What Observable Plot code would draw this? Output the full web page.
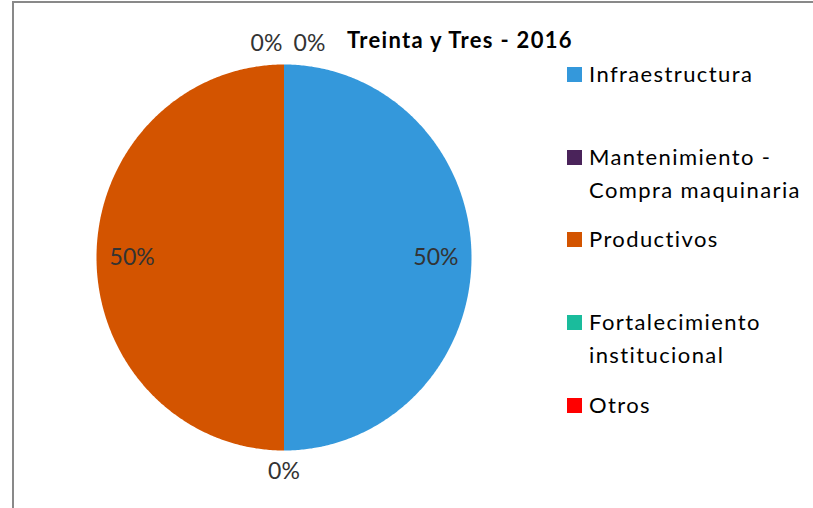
<!DOCTYPE html>
<html><head><meta charset="utf-8">
<script src="https://cdn.jsdelivr.net/npm/d3@7"></script>
<script src="https://cdn.jsdelivr.net/npm/@observablehq/plot@0.6"></script>
<style>
body{margin:0;background:#fff;font-family:Lato,"Open Sans",sans-serif;font-variant-ligatures:none;}
#wrap{position:relative;width:813px;height:508px;overflow:hidden;background:#fff;}
#frame{position:absolute;left:12px;top:1px;width:900px;height:600px;border-left:2.5px solid #898989;border-top:2.5px solid #898989;}
#title{position:absolute;left:347px;top:27px;font-weight:bold;font-size:22px;letter-spacing:1.3px;color:#000;white-space:nowrap;line-height:26px;}
#legend{position:absolute;left:567px;top:0;}
.li{position:absolute;left:0;display:flex;align-items:flex-start;white-space:nowrap;font-size:22px;letter-spacing:1.4px;color:#000;line-height:32.5px;}
.sw{width:15px;height:15px;margin-top:9px;margin-right:7px;flex:none;}
#chart{position:absolute;left:0;top:0;}
#chart text{font-variant-ligatures:none;}
</style></head>
<body><div id="wrap"><div id="frame"></div><div id="chart"></div><div id="title"></div><div id="legend"></div></div>
<script>
const title = "Treinta y Tres - 2016";
const categories = ["Infraestructura", "Mantenimiento - Compra maquinaria", "Productivos", "Fortalecimiento institucional", "Otros"];
const legendLines = [["Infraestructura"], ["Mantenimiento -", "Compra maquinaria"], ["Productivos"], ["Fortalecimiento", "institucional"], ["Otros"]];
const values = [50, 0, 50, 0, 0];
const colors = ["#3498DB", "#4A235A", "#D35400", "#1ABC9C", "#FF0000"];

// layout
const pieLeft = 96, pieRight = 471, pieTop = 64, pieBottom = 450;
const legendTops = [58, 141, 223, 306, 389];
const labelNudgePx = [0, 0, 0, -17.5, 25.5];

const total = d3.sum(values);
let acc = 0;
const slices = categories.map((c, i) => {
  const a0 = acc / total * 2 * Math.PI;
  acc += values[i];
  const a1 = acc / total * 2 * Math.PI;
  return {cat: c, value: values[i], a0, a1, i};
});
const poly = [];
for (const s of slices) {
  if (s.value <= 0) continue;
  poly.push({cat: s.cat, x: 0, y: 0});
  const n = Math.max(2, Math.ceil((s.a1 - s.a0) / (Math.PI / 360)));
  for (let k = 0; k <= n; k++) {
    const a = s.a0 + (s.a1 - s.a0) * k / n;
    poly.push({cat: s.cat, x: Math.sin(a), y: Math.cos(a)});
  }
  poly.push({cat: s.cat, x: 0, y: 0});
}
const rx = (pieRight - pieLeft) / 2;
const labels = slices.map(s => {
  const m = (s.a0 + s.a1) / 2;
  const r = s.value > 0 ? 0.81 : 1.11;
  return {x: r * Math.sin(m) + labelNudgePx[s.i] / rx, y: r * Math.cos(m), t: Math.round(s.value / total * 100) + "%"};
});

const plot = Plot.plot({
  width: 813, height: 508, margin: 0,
  x: {domain: [-1, 1], range: [pieLeft, pieRight], axis: null},
  y: {domain: [-1, 1], range: [pieBottom, pieTop], axis: null},
  color: {domain: categories, range: colors},
  style: {background: "transparent"},
  marks: [
    Plot.line(poly, {x: "x", y: "y", z: "cat", fill: "cat", stroke: "none", curve: "linear"}),
    Plot.text(labels, {x: "x", y: "y", text: "t", fontSize: 23, fill: "#333333", fontFamily: "Lato"})
  ]
});
document.getElementById("chart").appendChild(plot);
document.getElementById("title").textContent = title;
const lg = document.getElementById("legend");
legendLines.forEach((lines, i) => {
  const d = document.createElement("div");
  d.className = "li";
  d.style.top = legendTops[i] + "px";
  const sw = document.createElement("div");
  sw.className = "sw"; sw.style.background = colors[i];
  const t = document.createElement("div");
  t.innerHTML = lines.join("<br>");
  d.appendChild(sw); d.appendChild(t);
  lg.appendChild(d);
});
</script></body></html>
